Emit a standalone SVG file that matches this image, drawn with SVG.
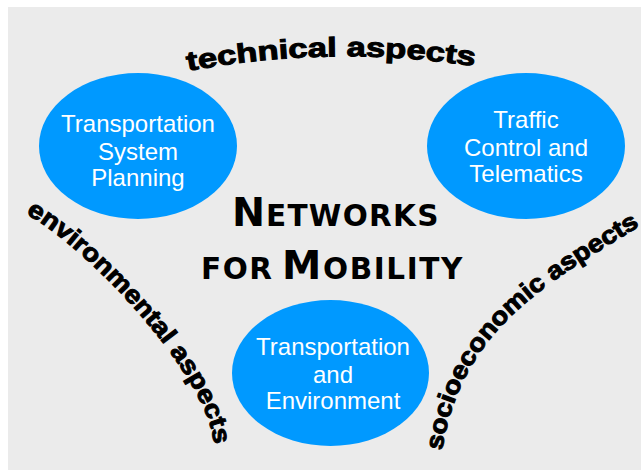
<svg xmlns="http://www.w3.org/2000/svg" xmlns:xlink="http://www.w3.org/1999/xlink" width="641" height="470" viewBox="0 0 641 470">
<style>
.node ellipse{fill:#0099ff}
.lbl{font-family:"Liberation Sans",Arial,sans-serif;font-size:24px;fill:#ffffff;text-anchor:middle}
.arc{font-family:"Liberation Sans",Arial,sans-serif;font-weight:bold;fill:#000;stroke:#000;stroke-width:1px}
.title{font-family:"DejaVu Sans",Verdana,sans-serif;font-weight:bold;fill:#000}
.big{font-size:39.5px}
.small{font-size:29.5px}
</style>
<defs>
<path id="pTech" d="M188,71 Q333,44 479,67"/>
<path id="pEnv" d="M26,214 C86,246 214,380 214,449"/>
<path id="pSoc" d="M442,451 C462,326 549.5,282.3 643,224"/>
</defs>
<rect x="8" y="7" width="633" height="463" fill="#ebebeb"/>
<g id="tsp" class="node">
<ellipse cx="138" cy="146" rx="99" ry="73"/>
<text class="lbl"><tspan x="138" y="132">Transportation</tspan><tspan x="138" y="160">System</tspan><tspan x="138" y="186">Planning</tspan></text>
</g>
<g id="tct" class="node">
<ellipse cx="526" cy="146" rx="99" ry="73"/>
<text class="lbl"><tspan x="526" y="128">Traffic</tspan><tspan x="526" y="156">Control and</tspan><tspan x="526" y="182">Telematics</tspan></text>
</g>
<g id="te" class="node">
<ellipse cx="330.5" cy="373" rx="98.5" ry="73"/>
<text class="lbl"><tspan x="333" y="355">Transportation</tspan><tspan x="333" y="383">and</tspan><tspan x="333" y="409">Environment</tspan></text>
</g>
<g id="title">
<text class="title"><tspan class="big" x="232" y="226">N</tspan><tspan class="small" x="266" y="226" letter-spacing="1.3">ETWORKS</tspan></text>
<text class="title"><tspan class="small" x="201" y="279" letter-spacing="1.5">FOR</tspan><tspan class="big" x="282" y="279">M</tspan><tspan class="small" x="323" y="279" letter-spacing="1.6">OBILITY</tspan></text>
</g>
<g id="aspects">
<text class="arc" font-size="27"><textPath xlink:href="#pTech" href="#pTech" textLength="288" lengthAdjust="spacingAndGlyphs">technical aspects</textPath></text>
<text class="arc" font-size="25"><textPath xlink:href="#pEnv" href="#pEnv" textLength="304" lengthAdjust="spacingAndGlyphs">environmental aspects</textPath></text>
<text class="arc" font-size="25"><textPath xlink:href="#pSoc" href="#pSoc" textLength="312" lengthAdjust="spacingAndGlyphs">socioeconomic aspects</textPath></text>
</g>
</svg>
